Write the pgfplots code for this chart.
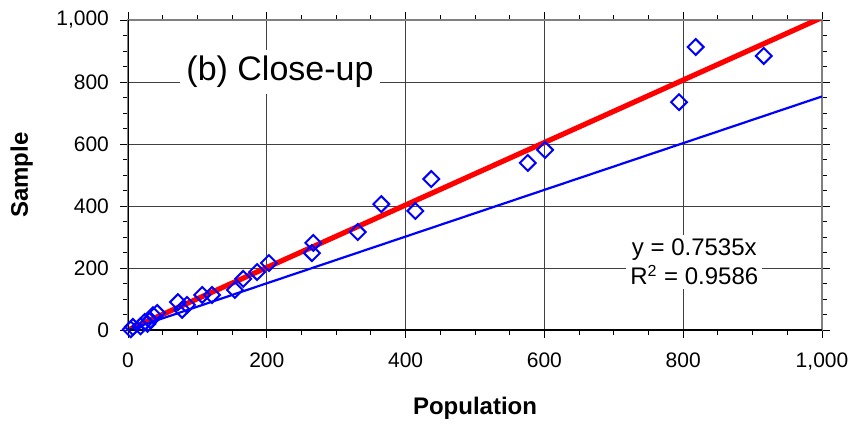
\documentclass[border=0pt]{standalone}
\usepackage{pgfplots}
\pgfplotsset{compat=1.18}
\usepackage{fontspec}
\setmainfont{Liberation Sans}
\begin{document}
\begin{tikzpicture}
\begin{axis}[
  scale only axis,
  width=347pt, height=155pt,
  at={(0,0)}, anchor=south west,
  xmin=0, xmax=1000, ymin=0, ymax=1000,
  xtick={0,200,...,1000}, ytick={0,200,...,1000},
  minor xtick={50,100,...,950}, minor ytick={50,100,...,950},
  tick align=outside,
  major tick length=4pt, minor tick length=2.5pt,
  tick style={black, line width=0.5pt},
  grid=major,
  major grid style={draw=black!75, line width=0.5pt},
  axis line style={draw=gray, line width=0.8pt},
  /pgf/number format/assume math mode=true,
  /pgf/number format/1000 sep={,},
  ticklabel style={font=\fontsize{10.5}{12}\selectfont},
  xticklabel style={yshift=-4pt},
  yticklabel style={xshift=-2pt},
  xlabel={\textbf{Population}},
  ylabel={\textbf{Sample}},
  label style={font=\fontsize{12}{14}\selectfont},
  xlabel style={at={(axis description cs:0.5,0)}, anchor=north, yshift=-30pt},
  ylabel style={at={(axis description cs:0,0.5)}, anchor=south, yshift=44pt},
  clip=true,
]
\addplot[red, line width=2.6pt] coordinates {(0,0) (1000,1008)};
\addplot[blue, line width=1.1pt] coordinates {(0,0) (1000,753.5)};
\addplot[only marks, mark=square, mark size=2.8pt, blue, mark options={line width=1pt, fill=none, rotate=45}] coordinates {
(4,2) (7,10) (18,12) (24,26) (28,20) (32,32) (36,48) (42,55)
(72,90) (78,65) (85,81) (107,113) (121,113) (154,129) (166,165)
(186,187) (203,216) (265,248) (267,281) (331,316) (365,406)
(414,384) (437,487) (576,539) (601,581) (794,735) (818,913) (916,884)
};
\draw[black, line width=0.8pt] (rel axis cs:0,1) -- (rel axis cs:0,0) -- (rel axis cs:1,0);
\node[fill=white, inner sep=3pt, font=\fontsize{17}{20}\selectfont] at (axis cs:219,832) {(b) Close-up};
\node[fill=white, inner sep=2pt, align=center, font=\fontsize{12}{14.5}\selectfont] at (axis cs:816,219) {y = 0.7535x\\R\textsuperscript{2} = 0.9586};
\end{axis}
\pgfresetboundingbox
\path (-64pt,-46.5pt) rectangle (363pt,165pt);
\end{tikzpicture}
\end{document}
